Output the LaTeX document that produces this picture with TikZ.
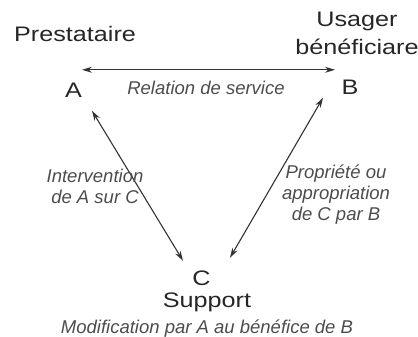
\documentclass[tikz,border=0pt]{standalone}
\usepackage{fontspec}
\setmainfont{Liberation Sans}
\newfontfamily\widesf[FakeStretch=1.2]{Liberation Sans}
\usetikzlibrary{arrows.meta}

\tikzset{
  pole/.style={inner sep=0pt, anchor=base, text=black!85, font=\widesf\fontsize{21}{28}\selectfont},
  role/.style={inner sep=0pt, anchor=base, align=center, text=black!85, font=\widesf\fontsize{21}{28}\selectfont},
  note/.style={inner sep=0pt, anchor=base, align=center, text=black!70, font=\fontsize{18.5}{21}\selectfont\itshape},
  link/.style={{Stealth[length=10pt,width=6pt]}-{Stealth[length=10pt,width=6pt]}, line width=1.1pt, draw=black!80}
}

\begin{document}
\begin{tikzpicture}[x=1pt,y=-1pt]
    \useasboundingbox (0,0) rectangle (418,337);
    % the three poles
    \node[pole](A) at (73.5,98){A};
    \node[pole](B) at (350,95){B};
    \node[pole](C) at (201.5,285){C};
    \node[role](prest) at (75,42){Prestataire};
    \node[role](usager) at (357,55){Usager\\bénéficiare};
    \node[role](supp) at (207,307){Support};
    % relations
    \draw[link]([shift={(8.5,-21)}]A.center)--([shift={(-15,-18)}]B.center);
    \draw[link]([shift={(18.5,20)}]A.center)--([shift={(-18.5,-17)}]C.center);
    \draw[link]([shift={(-27,10)}]B.center)--([shift={(28.5,-20)}]C.center);
    \node[note](serv) at (206,95){Relation de service};
    \node[note](interv) at (95,203){Intervention\\de A sur C};
    \node[note](propr) at (336,220){Propriété ou\\appropriation\\de C par B};
    \node[note](modif) at (207,333){Modification par A au bénéfice de B};
\end{tikzpicture}
\end{document}
